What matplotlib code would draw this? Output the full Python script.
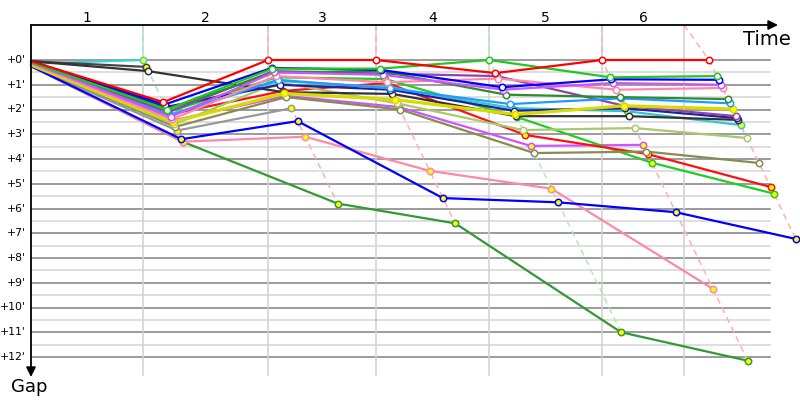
import matplotlib
matplotlib.use('Agg')
import matplotlib.pyplot as plt

# stage boundaries on the time axis (minutes) and the leader's finish time
stage_labels = ['1', '2', '3', '4', '5', '6']
stage_ends = [9.33, 19.75, 28.75, 38.17, 47.58, 54.42]
stage_finish = [9.33, 19.75, 28.75, 38.17, 47.58, 56.5]
stage_line_colors = ['#9fe3e8', '#ffb0b0', '#ffb0b0', '#b0eab0', '#ffb0b0', '#ffb0b0']

# gap to leader (minutes): start, then after each stage (None = out)
names = ['red', 'green', 'blue', 'violet', 'pink', 'darkgreen', 'dodger', 'yellow',
         'purple', 'navy', 'black', 'turquoise', 'yellowgreen', 'olive', 'red2',
         'lime2', 'blue2', 'pink2', 'forest', 'magenta2', 'gray', 'black2', 'cyan']
colors = ['#ff0000', '#1ec81e', '#0000ff', '#cc55ff', '#ff88aa', '#2e8b2e', '#1e9bff', '#dada00',
          '#8e44ad', '#2020a0', '#333333', '#30c8d0', '#aac86e', '#8b8b50', '#ff1010',
          '#22cc22', '#0000ff', '#ff88aa', '#339933', '#cc55ff', '#999999', '#444444', '#40d0d8']
gaps = [
    [0.05, 1.70, 0.00, 0.00, 0.53, 0.00, 0.00],
    [0.10, 2.00, 0.35, 0.35, 0.00, 0.70, 0.65],
    [0.05, 1.80, 0.32, 0.40, 1.10, 0.78, 0.80],
    [0.10, 2.30, 0.50, 0.60, 1.20, 0.93, 1.00],
    [0.15, 2.40, 0.65, 0.90, 0.75, 1.20, 1.13],
    [0.10, 2.00, 0.50, 0.45, 1.40, 1.50, 1.58],
    [0.15, 2.25, 0.80, 1.15, 1.78, 1.55, 1.75],
    [0.20, 2.50, 1.35, 1.60, 2.20, 1.85, 1.98],
    [0.10, 2.10, 0.45, 0.55, 0.65, 1.85, 2.27],
    [0.10, 1.90, 1.00, 1.20, 2.05, 1.95, 2.35],
    [0.05, 0.45, 1.30, 1.37, 2.27, 2.27, 2.42],
    [0.20, 2.20, 0.85, 1.10, 1.94, 2.07, 2.63],
    [0.20, 2.60, 0.90, 1.75, 2.83, 2.75, 3.15],
    [0.20, 2.70, 1.50, 2.00, 3.76, 3.70, 4.16],
    [0.10, 2.20, 1.25, 0.93, 3.03, 3.80, 5.13],
    [0.15, 2.10, 0.70, 0.77, 2.30, 4.15, 5.40],
    [0.25, 3.20, 2.47, 5.58, 5.75, 6.15, 7.23],
    [0.25, 3.30, 3.10, 4.48, 5.20, 9.25, None],
    [0.25, 3.30, 5.80, 6.60, 11.00, 12.15, None],
    [0.20, 2.45, 1.45, 1.90, 3.47, 3.43, None],
    [0.25, 2.85, 1.95, None, None, None, None],
    [0.05, 0.28, None, None, None, None, None],
    [0.15, 0.00, None, None, None, None, None],
]
yellow_fill = ['yellow', 'red2', 'lime2', 'magenta2', 'gray', 'blue2', 'pink2', 'forest',
               'black2', 'turquoise', 'cyan']
thick = ['yellow']

gap_ticks = list(range(0, 13))
gap_tick_labels = ["+%d'" % g for g in gap_ticks]

px_per_min_x = 12.0
px_per_min_y = 24.75
top = -35 / px_per_min_y          # time axis sits above the +0' line
bottom = 315 / px_per_min_y
grid_right = 739 / px_per_min_x

fig = plt.figure(figsize=(8, 4), dpi=100)
ax = fig.add_axes([0, 0, 1, 1])
ax.set_xlim(-31 / px_per_min_x, 769 / px_per_min_x)
ax.set_ylim(340 / px_per_min_y, -60 / px_per_min_y)
ax.axis('off')

# grid
for g in gap_ticks:
    ax.plot([0, grid_right], [g, g], color='#808080', lw=1.1, zorder=1)
    if g < 12:
        ax.plot([0, grid_right], [g + 0.5, g + 0.5], color='#d4d4d4', lw=1.1, zorder=0.9)
for t in stage_ends:
    ax.plot([t, t], [top, bottom], color='#d0d0d0', lw=1.1, zorder=1)

# stage finish lines: a rider with gap g crosses at finish + g
for k in range(len(stage_ends)):
    stage_gaps = [row[k + 1] for row in gaps if row[k + 1] is not None]
    gmax = max(stage_gaps)
    ax.plot([stage_ends[k], stage_finish[k], stage_finish[k] + gmax], [top, 0, gmax],
            color=stage_line_colors[k], lw=1.1, ls=(0, (4, 3)), zorder=1.5)

# riders
n = len(names)
for i in reversed(range(n)):
    xs = [0.0]
    ys = [gaps[i][0]]
    for k in range(len(stage_finish)):
        g = gaps[i][k + 1]
        if g is None:
            break
        xs.append(stage_finish[k] + g)
        ys.append(g)
    face = '#ffff00' if names[i] in yellow_fill else 'white'
    lw = 2.3 if names[i] in thick else 1.6
    z = 3 + (n - i) * 0.01
    ax.plot(xs, ys, color=colors[i], lw=lw, zorder=z, solid_capstyle='round')
    ax.plot(xs[1:], ys[1:], ls='none', marker='o', ms=4.6, mfc=face, mec=colors[i],
            mew=1.1, zorder=z + 0.005)

# axes with arrows
ax.annotate('', xy=(747 / px_per_min_x, top), xytext=(0, top),
            arrowprops=dict(arrowstyle='-|>', color='black', lw=1.3, mutation_scale=14,
                            shrinkA=0, shrinkB=0), zorder=5)
ax.annotate('', xy=(0, 317 / px_per_min_y), xytext=(0, top),
            arrowprops=dict(arrowstyle='-|>', color='black', lw=1.3, mutation_scale=14,
                            shrinkA=0, shrinkB=0), zorder=5)

prev = 0.0
for lab, t in zip(stage_labels, stage_ends):
    ax.text((prev + t) / 2, -42 / px_per_min_y, lab, ha='center', va='center', fontsize=10)
    prev = t
for g, lab in zip(gap_ticks, gap_tick_labels):
    ax.text(-5.5 / px_per_min_x, g, lab, ha='right', va='center', fontsize=7.8)

ax.text(712 / px_per_min_x, -15 / px_per_min_y, 'Time', ha='left', va='baseline', fontsize=14)
ax.text(-20 / px_per_min_x, 332 / px_per_min_y, 'Gap', ha='left', va='baseline', fontsize=13)

fig.savefig('out.png', dpi=100)
